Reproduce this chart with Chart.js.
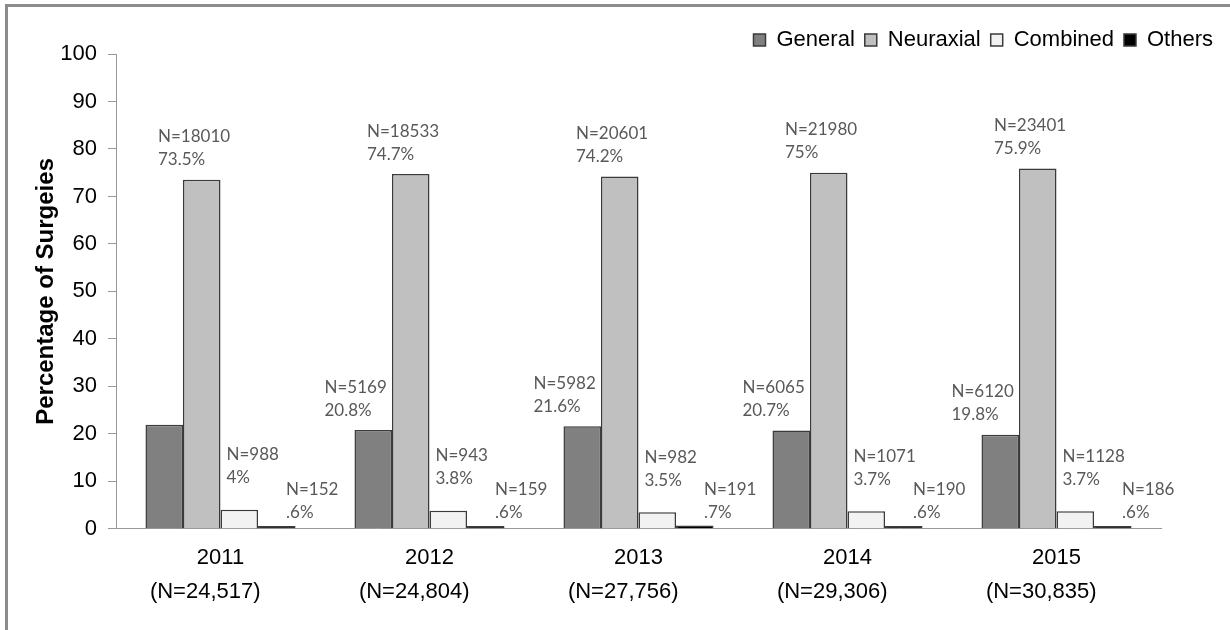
<!DOCTYPE html>
<html>
<head>
<meta charset="utf-8">
<script src="https://cdn.jsdelivr.net/npm/chart.js@4.4.1/dist/chart.umd.min.js"></script>
<style>
  html, body { margin: 0; padding: 0; background: #fff; }
  #wrap { position: relative; width: 1230px; height: 630px; overflow: hidden; }
  #frame { position: absolute; left: 5px; top: 4px; width: 1300px; height: 700px;
           border-left: 3px solid #8c8c8c; border-top: 3px solid #8c8c8c; pointer-events: none; }
</style>
</head>
<body>
<div id="wrap">
  <canvas id="chart" width="1230" height="630"></canvas>
  <div id="frame"></div>
</div>
<script>
// categories
const years = ["2011", "2012", "2013", "2014", "2015"];
const yearTotals = ["(N=24,517)", "(N=24,804)", "(N=27,756)", "(N=29,306)", "(N=30,835)"];

// percentage of surgeries per anaesthesia type
const general   = [21.9, 20.8, 21.6, 20.7, 19.8];
const neuraxial = [73.5, 74.7, 74.2, 75, 75.9];
const combined  = [4, 3.8, 3.5, 3.7, 3.7];
const others    = [0.6, 0.6, 0.7, 0.6, 0.6];

// counts shown in the labels (2011 general has no label in the source)
const generalN   = [null, 5169, 5982, 6065, 6120];
const neuraxialN = [18010, 18533, 20601, 21980, 23401];
const combinedN  = [988, 943, 982, 1071, 1128];
const othersN    = [152, 159, 191, 190, 186];

const yTicks = [0, 10, 20, 30, 40, 50, 60, 70, 80, 90, 100];

const counts = [generalN, neuraxialN, combinedN, othersN];
// label offsets from the bar's left edge / top
const labelPos = [
  {dx: -30, dy: -43},
  {dx: -25, dy: -43},
  {dx: 6, dy: -55},
  {dx: 28, dy: -36}
];

function pct(v) {
  return String(v).replace(/^0\./, ".") + "%";
}

const barLabels = {
  id: "barLabels",
  afterDatasetsDraw(chart) {
    const ctx = chart.ctx;
    ctx.save();
    ctx.font = "17px Lato";
    ctx.fillStyle = "#595959";
    ctx.textAlign = "left";
    ctx.textBaseline = "middle";
    chart.data.datasets.forEach((ds, i) => {
      const meta = chart.getDatasetMeta(i);
      meta.data.forEach((bar, j) => {
        const n = counts[i][j];
        if (n == null) return;
        const x = bar.x - bar.width / 2 + labelPos[i].dx;
        const y = bar.y + labelPos[i].dy;
        ctx.fillText("N=" + n, x, y);
        ctx.fillText(pct(ds.data[j]), x, y + 23);
      });
    });
    ctx.restore();
  }
};

const common = {borderColor: "#3a3a3a", borderWidth: 1.5, categoryPercentage: 0.718, barPercentage: 1};

new Chart(document.getElementById("chart"), {
  type: "bar",
  data: {
    labels: years.map((y, i) => [y, yearTotals[i] + "     "]),
    datasets: [
      Object.assign({label: "General", data: general, backgroundColor: "#808080"}, common),
      Object.assign({label: "Neuraxial", data: neuraxial, backgroundColor: "#c0c0c0"}, common),
      Object.assign({label: "Combined", data: combined, backgroundColor: "#f2f2f2"}, common),
      Object.assign({label: "Others", data: others, backgroundColor: "#000000"}, common)
    ]
  },
  options: {
    responsive: false,
    animation: false,
    layout: {padding: {top: 19, left: 25, right: 7, bottom: 9}},
    plugins: {
      legend: {
        position: "top",
        align: "end",
        maxHeight: 35,
        labels: {
          boxWidth: 12,
          boxHeight: 12,
          padding: 10,
          color: "#000",
          font: {family: "Liberation Sans, Arial", size: 22}
        }
      },
      tooltip: {enabled: false}
    },
    scales: {
      x: {
        grid: {display: false, drawTicks: false, tickLength: 0},
        border: {display: true, color: "#999", width: 1},
        ticks: {
          padding: 12,
          color: "#000",
          maxRotation: 0,
          font: {family: "Liberation Sans, Arial", size: 22, lineHeight: 1.55}
        }
      },
      y: {
        min: 0,
        max: 100,
        afterFit(s) { s.width = 91; },
        afterBuildTicks(s) { s.ticks = yTicks.map(v => ({value: v})); },
        grid: {display: true, drawOnChartArea: false, drawTicks: true, tickLength: 8, color: "#999"},
        border: {display: true, color: "#999", width: 1},
        ticks: {
          padding: 11,
          color: "#000",
          font: {family: "Liberation Sans, Arial", size: 22}
        },
        title: {
          display: true,
          text: "Percentage of Surgeies",
          color: "#000",
          padding: {top: 7, bottom: 0},
          font: {family: "Liberation Sans, Arial", size: 24, weight: "bold"}
        }
      },
      yR: {
        type: "linear",
        position: "right",
        display: true,
        afterFit(s) { s.width = 62; },
        grid: {display: false},
        border: {display: false},
        ticks: {display: false}
      }
    }
  },
  plugins: [barLabels]
});
</script>
</body>
</html>
